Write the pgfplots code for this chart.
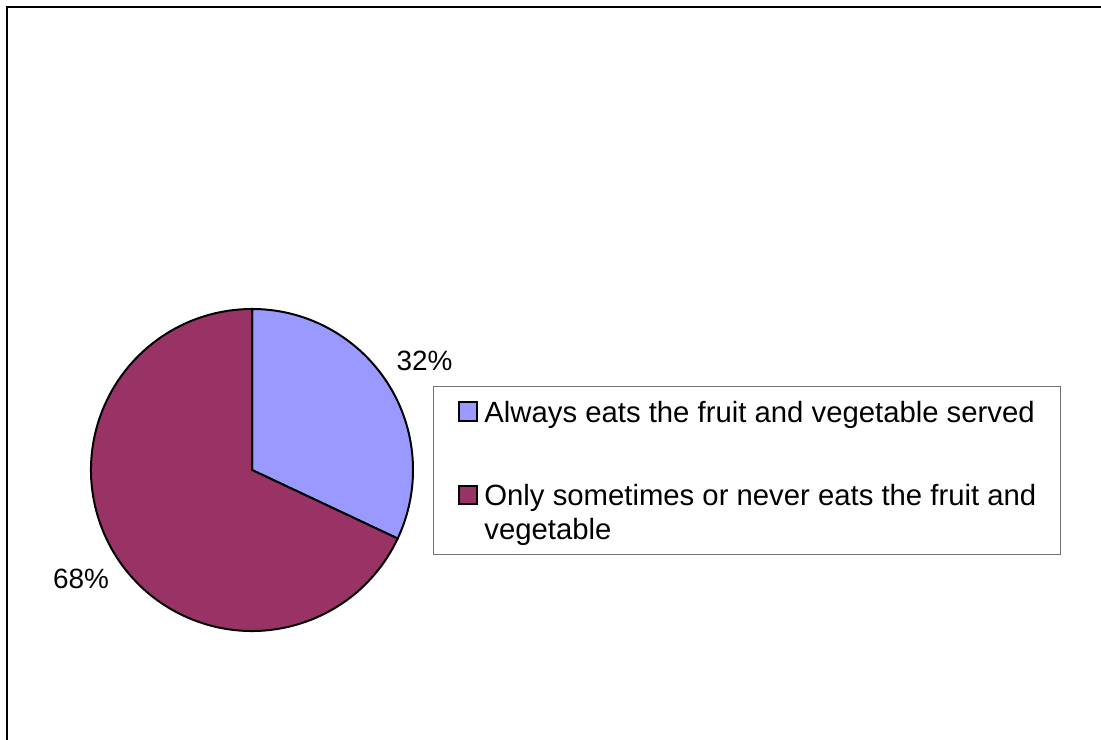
\documentclass[border=0pt]{standalone}
\usepackage{pgfplots}
\pgfplotsset{compat=1.18}
\usepackage{fontspec}
\setmainfont{Liberation Sans}
\definecolor{pieA}{RGB}{153,153,255}
\definecolor{pieB}{RGB}{153,51,102}
\begin{document}
\begin{tikzpicture}[x=1bp,y=1bp]
\useasboundingbox (0,0) rectangle (1101,740);
\fill[white] (0,0) rectangle (1101,740);
\draw[line width=2pt] (7,0) -- (7,733) -- (1101,733);
% data: percentages
\def\va{32}
\def\vb{68}
\pgfmathsetmacro\angA{360*\va/(\va+\vb)}
\pgfmathsetmacro\endA{90-\angA}
\pgfmathsetmacro\midA{90-\angA/2}
\pgfmathsetmacro\midB{90-\angA-(360-\angA)/2}
\pgfmathsetmacro\xA{cos(\endA)}
\pgfmathsetmacro\yA{sin(\endA)}
\pgfmathsetmacro\lxA{1.27*cos(\midA)}
\pgfmathsetmacro\lyA{1.27*sin(\midA)}
\pgfmathsetmacro\lxB{1.257*cos(\midB)}
\pgfmathsetmacro\lyB{1.257*sin(\midB)}
\begin{axis}[
  at={(252bp,270bp)}, anchor=center,
  x=161bp, y=161bp,
  xmin=-1, xmax=1, ymin=-1, ymax=1,
  hide axis, clip=false,
  legend cell align=left,
  legend image code/.code={\draw[#1, line width=2pt] (1pt,1pt) rectangle (20pt,20pt);},
  legend style={
    at={(1.0621,0.7609)}, anchor=north west,
    draw=black!55, line width=1.2pt,
    inner xsep=24pt, inner ysep=14.4pt,
    row sep=24.8pt, column sep=6pt,
    font=\fontsize{29.4}{34}\selectfont,
    nodes={inner sep=0pt, anchor=base west, text depth=35pt},
  },
]
\filldraw[fill=pieA, draw=black, line width=2pt] (axis cs:0,0) -- (axis cs:0,1) arc[start angle=90, end angle=\endA, radius=161bp] -- cycle;
\filldraw[fill=pieB, draw=black, line width=2pt] (axis cs:0,0) -- (axis cs:\xA,\yA) arc[start angle=\endA, end angle=-270, radius=161bp] -- cycle;
\node[font=\fontsize{28}{34}\selectfont] at (axis cs:\lxA,\lyA) {\va\%};
\node[font=\fontsize{28}{34}\selectfont] at (axis cs:\lxB,\lyB) {\vb\%};
\addlegendimage{fill=pieA, draw=black}
\addlegendentry{Always eats the fruit and vegetable served}
\addlegendimage{fill=pieB, draw=black}
\addlegendentry{\begin{tabular}[t]{@{}l@{}}Only sometimes or never eats the fruit and\\vegetable\end{tabular}}
\end{axis}
\end{tikzpicture}
\end{document}
